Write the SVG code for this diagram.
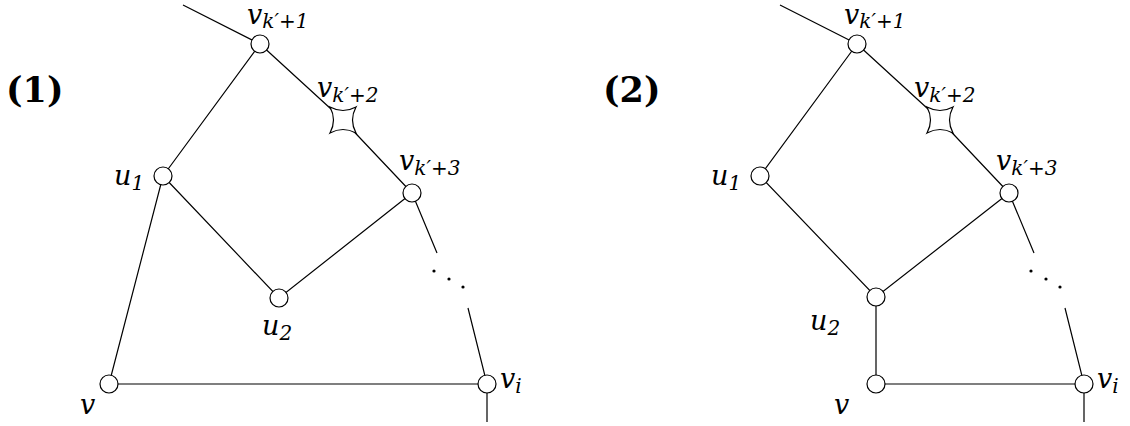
<svg xmlns="http://www.w3.org/2000/svg" width="1130" height="426" viewBox="0 0 1130 426">
<defs>
<style>
.e{stroke:#000;stroke-width:1.2;fill:none}
.n{fill:#fff;stroke:#000;stroke-width:1.2}
.l{font-family:"DejaVu Serif","Liberation Serif",serif;font-style:italic;font-size:27px;fill:#000}
.s{font-size:20px}
.t{font-family:"DejaVu Serif","Liberation Serif",serif;font-weight:bold;font-size:35px;fill:#000}
.d{fill:#000}
</style>
<path id="star" d="M-13,-13 Q0,-6 13,-13 Q6,0 13,13 Q0,6 -13,13 Q-6,0 -13,-13 Z"/>
</defs>
<rect width="1130" height="426" fill="#fff"/>
<text class="t" x="6" y="102">(1)</text>
<text class="t" x="603" y="102">(2)</text>
<g id="connectors">
<path class="e" d="M183,5 L260,44 M260,44 L163,176 M260,44 L343,120 L412,193 M163,176 L279,298 L412,193 M163,176 L109,384 L487,384 M412,193 L437,253 M468,308 L487,384 L487,422"/>
<path class="e" d="M780,5 L857,44 M857,44 L760,176 M857,44 L940,120 L1009,193 M760,176 L876,297 L1009,193 M876,297 L876,384 L1084,384 M1009,193 L1034,253 M1065,308 L1084,384 L1084,422"/>
</g>
<g id="dots1"><circle class="d" cx="434" cy="271" r="1.6"/><circle class="d" cx="449" cy="279" r="1.6"/><circle class="d" cx="463" cy="287" r="1.6"/></g>
<g id="dots2"><circle class="d" cx="1031" cy="271" r="1.6"/><circle class="d" cx="1046" cy="279" r="1.6"/><circle class="d" cx="1060" cy="287" r="1.6"/></g>
<g id="d1-vk1"><circle class="n" cx="260" cy="44" r="9"/><text class="l" x="247" y="24">v<tspan class="s" dy="4">k′+1</tspan></text></g>
<g id="d1-vk2"><use href="#star" class="n" x="343" y="120"/><text class="l" x="317" y="97">v<tspan class="s" dy="5">k′+2</tspan></text></g>
<g id="d1-vk3"><circle class="n" cx="412" cy="193" r="9"/><text class="l" x="399" y="170">v<tspan class="s" dy="5">k′+3</tspan></text></g>
<g id="d1-u1"><circle class="n" cx="163" cy="176" r="9"/><text class="l" x="114" y="185">u<tspan class="s" dy="5">1</tspan></text></g>
<g id="d1-u2"><circle class="n" cx="279" cy="298" r="9"/><text class="l" x="262" y="335">u<tspan class="s" dy="5">2</tspan></text></g>
<g id="d1-v"><circle class="n" cx="109" cy="384" r="9"/><text class="l" x="80" y="414">v</text></g>
<g id="d1-vi"><circle class="n" cx="487" cy="384" r="9"/><text class="l" x="500" y="388">v<tspan class="s" dy="5">i</tspan></text></g>
<g id="d2-vk1"><circle class="n" cx="857" cy="44" r="9"/><text class="l" x="844" y="24">v<tspan class="s" dy="4">k′+1</tspan></text></g>
<g id="d2-vk2"><use href="#star" class="n" x="940" y="120"/><text class="l" x="914" y="97">v<tspan class="s" dy="5">k′+2</tspan></text></g>
<g id="d2-vk3"><circle class="n" cx="1009" cy="193" r="9"/><text class="l" x="996" y="170">v<tspan class="s" dy="5">k′+3</tspan></text></g>
<g id="d2-u1"><circle class="n" cx="760" cy="176" r="9"/><text class="l" x="711" y="185">u<tspan class="s" dy="5">1</tspan></text></g>
<g id="d2-u2"><circle class="n" cx="876" cy="297" r="9"/><text class="l" x="810" y="330">u<tspan class="s" dy="5">2</tspan></text></g>
<g id="d2-v"><circle class="n" cx="876" cy="384" r="9"/><text class="l" x="834" y="414">v</text></g>
<g id="d2-vi"><circle class="n" cx="1084" cy="384" r="9"/><text class="l" x="1097" y="388">v<tspan class="s" dy="5">i</tspan></text></g>
</svg>
